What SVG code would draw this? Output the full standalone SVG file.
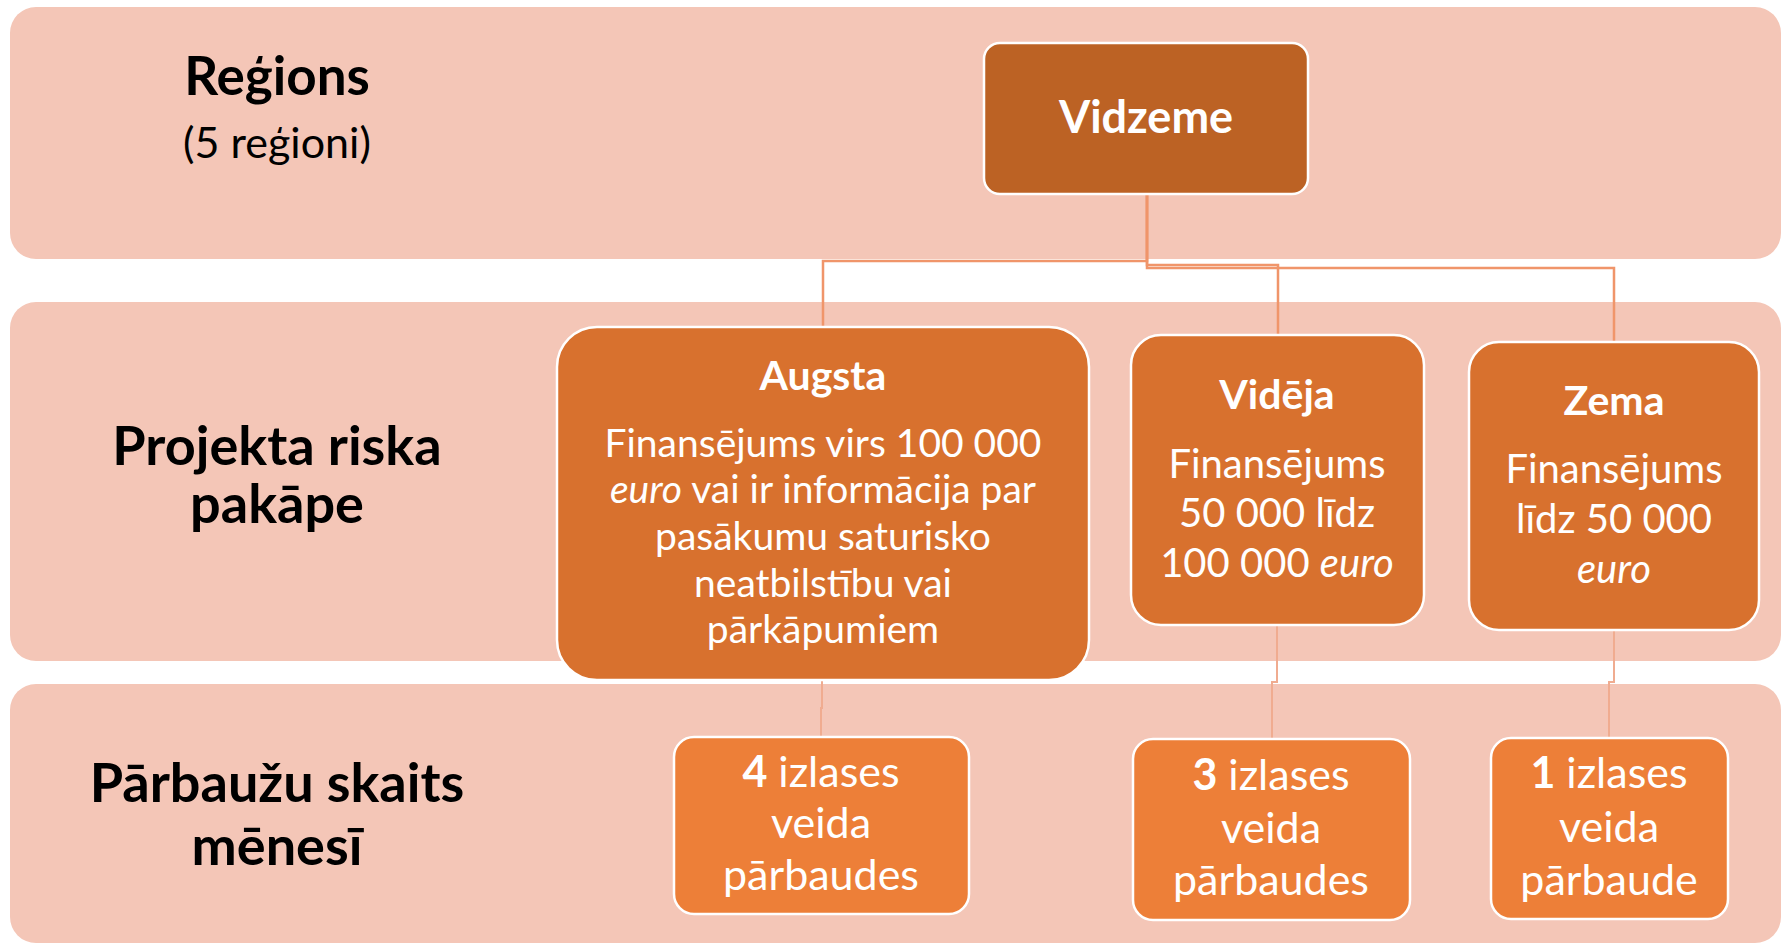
<svg xmlns="http://www.w3.org/2000/svg" width="1781" height="944" viewBox="0 0 1781 944">
<style>
.band{fill:#F4C6B7;}
.lbl{font-family:Lato,"Liberation Sans",sans-serif;fill:#000;text-anchor:middle;}
.b{font-weight:bold;}
.node{stroke:#FFFFFF;stroke-width:2.5;}
.dark{fill:#BC6224;}
.mid{fill:#D8712E;}
.low{fill:#ED7F38;}
.t{font-family:Lato,"Liberation Sans",sans-serif;fill:#FFFFFF;text-anchor:middle;}
.con{fill:none;stroke:#F0956A;stroke-width:2.5;}
.con2{fill:none;stroke:#F0AC90;stroke-width:2;}
</style>
<rect width="1781" height="944" fill="#FFFFFF"/>
<g id="bands">
<rect class="band" x="10" y="7" width="1771" height="252" rx="26"/>
<rect class="band" x="10" y="302" width="1771" height="359" rx="26"/>
<rect class="band" x="10" y="684" width="1771" height="259" rx="26"/>
</g>
<g id="labels">
<text class="lbl b" x="277" y="95" font-size="53">Reģions</text>
<text class="lbl" x="277" y="158" font-size="43">(5 reģioni)</text>
<text class="lbl b" x="277" y="465" font-size="54">Projekta riska</text>
<text class="lbl b" x="277" y="523" font-size="54">pakāpe</text>
<text class="lbl b" x="277" y="802" font-size="54">Pārbaužu skaits</text>
<text class="lbl b" x="277" y="865" font-size="54">mēnesī</text>
</g>
<g id="connectors">
<path class="con" d="M1147 194 V261 H823 V327"/>
<path class="con" d="M1147 194 V265 H1278 V335"/>
<path class="con" d="M1147 194 V268 H1614 V342"/>
<path class="con2" d="M822 680 V708 H821 V737"/>
<path class="con2" d="M1277 625 V682 H1272 V739"/>
<path class="con2" d="M1614 630 V682 H1609 V738"/>
</g>
<g id="vidzeme">
<rect class="node dark" x="984" y="43" width="324" height="151" rx="16"/>
<text class="t b" x="1146" y="133" font-size="45">Vidzeme</text>
</g>
<g id="augsta">
<rect class="node mid" x="557" y="327" width="532" height="353" rx="40"/>
<text class="t b" x="823" y="390" font-size="41">Augsta</text>
<text class="t" x="823" y="457" font-size="39">Finansējums virs 100 000</text>
<text class="t" x="823" y="503" font-size="39"><tspan font-style="italic">euro</tspan> vai ir informācija par</text>
<text class="t" x="823" y="550" font-size="39">pasākumu saturisko</text>
<text class="t" x="823" y="597" font-size="39">neatbilstību vai</text>
<text class="t" x="823" y="643" font-size="39">pārkāpumiem</text>
</g>
<g id="videja">
<rect class="node mid" x="1131" y="335" width="293" height="290" rx="30"/>
<text class="t b" x="1277" y="409" font-size="41">Vidēja</text>
<text class="t" x="1277" y="478" font-size="40">Finansējums</text>
<text class="t" x="1277" y="527" font-size="40">50 000 līdz</text>
<text class="t" x="1277" y="577" font-size="40">100 000 <tspan font-style="italic">euro</tspan></text>
</g>
<g id="zema">
<rect class="node mid" x="1469" y="342" width="290" height="288" rx="30"/>
<text class="t b" x="1614" y="415" font-size="41">Zema</text>
<text class="t" x="1614" y="483" font-size="40">Finansējums</text>
<text class="t" x="1614" y="533" font-size="40">līdz 50 000</text>
<text class="t" x="1614" y="583" font-size="40" font-style="italic">euro</text>
</g>
<g id="parbaudes4">
<rect class="node low" x="674" y="737" width="295" height="177" rx="20"/>
<text class="t" x="821" y="787" font-size="43"><tspan font-weight="bold">4</tspan> izlases</text>
<text class="t" x="821" y="838" font-size="43">veida</text>
<text class="t" x="821" y="890" font-size="43">pārbaudes</text>
</g>
<g id="parbaudes3">
<rect class="node low" x="1133" y="739" width="277" height="181" rx="20"/>
<text class="t" x="1271" y="790" font-size="43"><tspan font-weight="bold">3</tspan> izlases</text>
<text class="t" x="1271" y="843" font-size="43">veida</text>
<text class="t" x="1271" y="895" font-size="43">pārbaudes</text>
</g>
<g id="parbaude1">
<rect class="node low" x="1491" y="738" width="237" height="181" rx="20"/>
<text class="t" x="1609" y="788" font-size="43"><tspan font-weight="bold">1</tspan> izlases</text>
<text class="t" x="1609" y="842" font-size="43">veida</text>
<text class="t" x="1609" y="895" font-size="43">pārbaude</text>
</g>
</svg>
